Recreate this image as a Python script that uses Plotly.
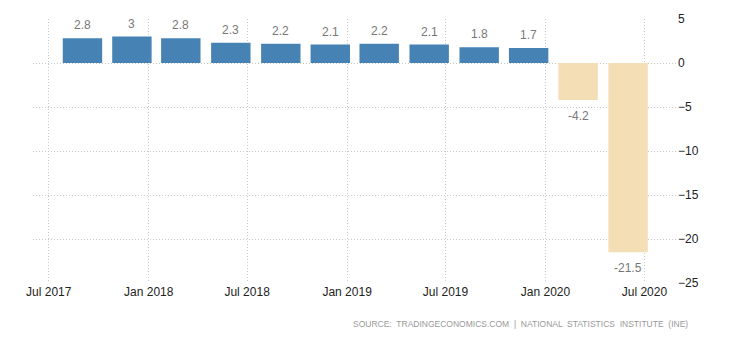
import plotly.graph_objects as go

dates = ["2017-09-01", "2017-12-01", "2018-03-01", "2018-06-01", "2018-09-01", "2018-12-01",
         "2019-03-01", "2019-06-01", "2019-09-01", "2019-12-01", "2020-03-01", "2020-06-01"]
values = [2.8, 3, 2.8, 2.3, 2.2, 2.1, 2.2, 2.1, 1.8, 1.7, -4.2, -21.5]
labels = ["2.8", "3", "2.8", "2.3", "2.2", "2.1", "2.2", "2.1", "1.8", "1.7", "-4.2", "-21.5"]
tick_dates = ["2017-07-01", "2018-01-01", "2018-07-01", "2019-01-01", "2019-07-01", "2020-01-01", "2020-07-01"]
tick_text = ["Jul 2017", "Jan 2018", "Jul 2018", "Jan 2019", "Jul 2019", "Jan 2020", "Jul 2020"]
y_ticks = [5, 0, -5, -10, -15, -20, -25]
source = "SOURCE:  TRADINGECONOMICS.COM  |  NATIONAL  STATISTICS  INSTITUTE  (INE)"

colors = ["#4682B4" if v >= 0 else "#F3DEB5" for v in values]
DAY = 86400000

fig = go.Figure()
fig.add_trace(go.Bar(
    x=dates, y=values, marker=dict(color=colors, line=dict(width=0)),
    width=[72.5 * DAY] * len(values), hoverinfo="skip",
))

for d, v, t in zip(dates, values, labels):
    fig.add_annotation(
        x=d, y=v, text=t, showarrow=False,
        yshift=13 if v >= 0 else -16,
        font=dict(family="Liberation Sans, Arial, sans-serif", size=12, color="#777777"),
    )

fig.add_annotation(
    xref="paper", yref="paper", x=1.02, y=-0.155, xanchor="right", yanchor="middle",
    text=source, showarrow=False,
    font=dict(family="Liberation Sans Narrow, Liberation Sans, sans-serif", size=8.5, color="#999999"),
)

fig.update_layout(
    width=730, height=340,
    margin=dict(l=33, r=53, t=19, b=57),
    plot_bgcolor="white", paper_bgcolor="white",
    showlegend=False,
    xaxis=dict(
        type="date", range=["2017-06-02", "2020-08-30"],
        tickvals=tick_dates, ticktext=tick_text,
        showgrid=True, gridcolor="#c8c8c8", griddash="1px,2px", gridwidth=1,
        showline=False, zeroline=False, ticks="",
        tickfont=dict(family="Liberation Sans, Arial, sans-serif", size=12, color="#222222"),
    ),
    yaxis=dict(
        range=[-25, 5], tickvals=y_ticks, side="right",
        showgrid=True, gridcolor="#c8c8c8", griddash="1px,2px", gridwidth=1,
        zeroline=False, showline=False, ticks="",
        tickfont=dict(family="Liberation Sans, Arial, sans-serif", size=12, color="#222222"),
    ),
)

fig.write_html("out.html")
